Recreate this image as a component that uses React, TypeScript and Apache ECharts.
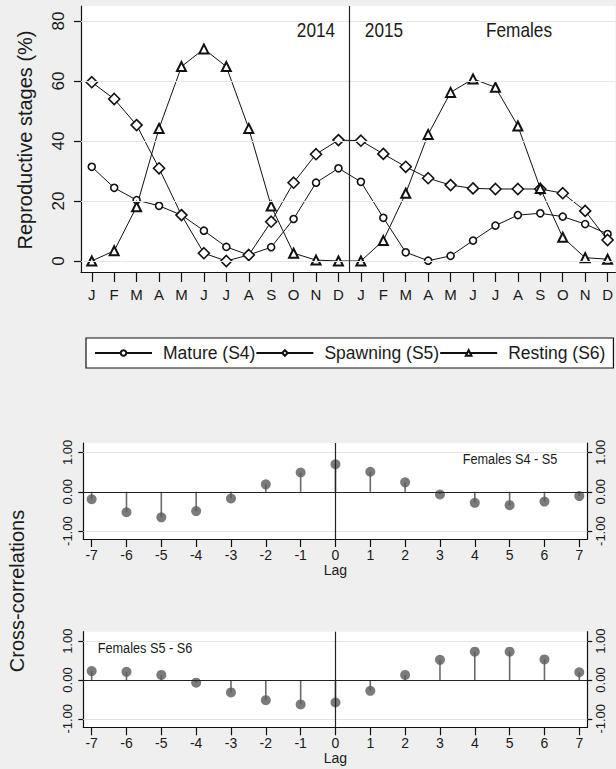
import React, { useEffect, useRef } from "react";
import * as echarts from "echarts";

// ---- Data ----
const monthLabels = [
  "J", "F", "M", "A", "M", "J", "J", "A", "S", "O", "N", "D",
  "J", "F", "M", "A", "M", "J", "J", "A", "S", "O", "N", "D",
];
const yTickValues = [0, 20, 40, 60, 80];

const mature = [31.4, 24.4, 20.3, 18.4, 15.3, 10.1, 4.7, 2.0, 4.6, 14.0, 26.1, 30.9,
  26.4, 14.4, 2.9, 0.1, 1.7, 6.8, 11.8, 15.3, 15.9, 14.8, 12.3, 9.0];
const spawning = [59.6, 54.0, 45.3, 30.9, 15.3, 2.6, 0.0, 2.0, 13.1, 26.1, 35.6, 40.3,
  40.1, 35.7, 31.4, 27.6, 25.3, 24.2, 24.0, 24.0, 24.0, 22.6, 16.7, 7.0];
const resting = [0.0, 3.4, 18.1, 44.2, 64.8, 70.7, 64.8, 44.2, 18.3, 2.6, 0.3, 0.0,
  0.0, 6.8, 22.6, 42.2, 56.2, 60.7, 57.9, 45.0, 24.2, 7.9, 1.1, 0.6];

const lags = [-7, -6, -5, -4, -3, -2, -1, 0, 1, 2, 3, 4, 5, 6, 7];
const ccfS4S5 = [-0.19, -0.52, -0.65, -0.49, -0.17, 0.19, 0.49, 0.70, 0.51, 0.24, -0.07, -0.28, -0.34, -0.25, -0.11];
const ccfS5S6 = [0.23, 0.21, 0.13, -0.07, -0.32, -0.52, -0.63, -0.58, -0.28, 0.13, 0.52, 0.73, 0.73, 0.53, 0.20];
const ccfTicks = [-1, 0, 1];

const seriesNames = ["Mature (S4)", "Spawning (S5)", "Resting (S6)"];

const REG = "'Liberation Sans', Arial, sans-serif";
const TXT = "#1a1a1a";
const BG = "#efefef";
const NARROW_SCALE = 0.82;

function buildOption() {
  const monthIdx = monthLabels.map((_, i) => i);
  const axisLineStyle = { color: "#111", width: 1.2 };

  const ccfX = (gi: number) => ({
    type: "value",
    gridIndex: gi,
    min: -7.24,
    max: 7.23,
    name: "Lag",
    nameLocation: "middle",
    nameGap: 19,
    nameTextStyle: { fontFamily: REG, fontSize: 14, color: TXT },
    axisLine: { show: true, onZero: false, lineStyle: axisLineStyle },
    axisTick: { show: true, length: 8, customValues: lags, lineStyle: axisLineStyle },
    axisLabel: { customValues: lags, fontFamily: REG, fontSize: 14, color: TXT, margin: 9, formatter: (v: number) => String(v) },
    splitLine: { show: false },
  });
  const ccfY = (gi: number, pos: string, min: number, max: number) => ({
    type: "value",
    gridIndex: gi,
    position: pos,
    min,
    max,
    axisLine: { show: true, onZero: false, lineStyle: axisLineStyle },
    axisTick: { show: true, length: 5, customValues: ccfTicks, lineStyle: axisLineStyle },
    axisLabel: {
      customValues: ccfTicks,
      rotate: 90,
      fontFamily: REG,
      fontSize: 13,
      color: TXT,
      margin: pos === "left" ? 9 : 7,
      formatter: (v: number) => v.toFixed(2),
    },
    splitLine: { show: false },
  });

  const refLines = (xi: number, yi: number) => ({
    type: "line",
    xAxisIndex: xi,
    yAxisIndex: yi,
    data: [[-100, -100]],
    symbol: "none",
    silent: true,
    z: 1,
    markLine: {
      silent: true,
      symbol: ["none", "none"],
      label: { show: false },
      data: [
        { yAxis: 1, lineStyle: { color: "#e4e4e4", width: 1, type: "solid" } },
        { yAxis: -1, lineStyle: { color: "#e4e4e4", width: 1, type: "solid" } },
        { yAxis: 0, lineStyle: { color: "#222", width: 1.2, type: "solid" } },
        { xAxis: 0, lineStyle: { color: "#222", width: 1.2, type: "solid" } },
      ],
    },
  });

  const stems = (xi: number, yi: number, vals: number[]) => ({
    type: "bar",
    xAxisIndex: xi,
    yAxisIndex: yi,
    data: lags.map((l, i) => [l, vals[i]]),
    barWidth: 1.6,
    itemStyle: { color: "#6a6a6a" },
    silent: true,
    z: 2,
  });
  const dots = (xi: number, yi: number, vals: number[]) => ({
    type: "scatter",
    xAxisIndex: xi,
    yAxisIndex: yi,
    data: lags.map((l, i) => [l, vals[i]]),
    symbol: "circle",
    symbolSize: 10,
    itemStyle: { color: "#5a5a5a" },
    silent: true,
    z: 3,
  });

  const mainLine = (name: string, vals: number[], symbol: string, size: number, bw: number) => ({
    type: "line",
    name,
    xAxisIndex: 0,
    yAxisIndex: 0,
    data: vals.map((v, i) => [i, v]),
    symbol,
    symbolSize: size,
    showAllSymbol: true,
    lineStyle: { color: "#111", width: 1 },
    itemStyle: { color: "#fff", borderColor: "#111", borderWidth: bw },
    z: 3,
  });

  const narrowText = (text: string, x: number, y: number, size: number) => ({
    type: "text",
    x,
    y,
    scaleX: NARROW_SCALE,
    style: { text, fontFamily: REG, fontSize: size, fill: TXT, align: "center", verticalAlign: "middle" },
  });

  return {
    animation: false,
    backgroundColor: BG,
    grid: [
      { left: 81, top: 6, width: 535, height: 266, show: true, backgroundColor: "#fff", borderWidth: 0 },
      { left: 83.3, top: 443, width: 504, height: 96, show: true, backgroundColor: "#fff", borderWidth: 0 },
      { left: 83.3, top: 631.7, width: 504, height: 95.6, show: true, backgroundColor: "#fff", borderWidth: 0 },
    ],
    xAxis: [
      {
        type: "value",
        gridIndex: 0,
        min: -0.48,
        max: 23.35,
        axisLine: { show: true, onZero: false, lineStyle: axisLineStyle },
        axisTick: { show: true, length: 10, customValues: monthIdx, lineStyle: axisLineStyle },
        axisLabel: {
          customValues: monthIdx,
          fontFamily: REG,
          fontSize: 15,
          color: TXT,
          margin: 15,
          formatter: (v: number) => monthLabels[Math.round(v)] ?? "",
        },
        splitLine: { show: false },
      },
      ccfX(1),
      ccfX(2),
    ],
    yAxis: [
      {
        type: "value",
        gridIndex: 0,
        position: "left",
        min: -3.667,
        max: 85,
        axisLine: { show: true, onZero: false, lineStyle: axisLineStyle },
        axisTick: { show: true, length: 7, customValues: yTickValues, lineStyle: axisLineStyle },
        axisLabel: {
          customValues: yTickValues,
          rotate: 90,
          fontFamily: REG,
          fontSize: 17,
          color: TXT,
          margin: 14,
        },
        splitLine: { show: false },
      },
      ccfY(1, "left", -1.2, 1.24),
      ccfY(1, "right", -1.2, 1.24),
      ccfY(2, "left", -1.22, 1.245),
      ccfY(2, "right", -1.22, 1.245),
    ],
    legend: {
      data: seriesNames,
      left: 86,
      top: 338,
      width: 560,
      orient: "horizontal",
      itemWidth: 57,
      itemHeight: 7,
      itemGap: 0,
      padding: [6, 8, 6, 8],
      borderColor: "#111",
      borderWidth: 1.2,
      backgroundColor: "#fff",
      selectedMode: false,
      textStyle: { fontFamily: REG, fontSize: 17.5, color: TXT, padding: [0, 0, 0, 6] },
    },
    graphic: [
      { type: "text", x: 25, y: 140, rotation: Math.PI / 2, style: { text: "Reproductive stages (%)", fontFamily: REG, fontSize: 20, fill: TXT, align: "center", verticalAlign: "middle" } },
      { type: "text", x: 17, y: 591, rotation: Math.PI / 2, style: { text: "Cross-correlations", fontFamily: REG, fontSize: 20, fill: TXT, align: "center", verticalAlign: "middle" } },
      narrowText("2014", 316, 30, 21),
      narrowText("2015", 384, 30, 21),
      narrowText("Females", 519, 30, 21),
      narrowText("Females S4 - S5", 510, 459, 15.5),
      narrowText("Females S5 - S6", 145, 648, 15.5),
    ],
    series: [
      {
        type: "line",
        xAxisIndex: 0,
        yAxisIndex: 0,
        data: [[-100, -100]],
        symbol: "none",
        silent: true,
        z: 1,
        markLine: {
          silent: true,
          symbol: ["none", "none"],
          label: { show: false },
          data: [
            ...yTickValues.map((v) => ({ yAxis: v, lineStyle: { color: "#e6e6e6", width: 1, type: "solid" } })),
            { xAxis: 11.5, lineStyle: { color: "#222", width: 1.2, type: "solid" } },
          ],
        },
      },
      mainLine(seriesNames[0], mature, "circle", 7, 1.6),
      mainLine(seriesNames[1], spawning, "diamond", 11, 1.6),
      mainLine(seriesNames[2], resting, "triangle", 9, 2),
      refLines(1, 1),
      stems(1, 1, ccfS4S5),
      dots(1, 1, ccfS4S5),
      refLines(2, 3),
      stems(2, 3, ccfS5S6),
      dots(2, 3, ccfS5S6),
    ],
  };
}

export default function App() {
  const ref = useRef<HTMLDivElement>(null);
  useEffect(() => {
    document.body.style.margin = "0";
    if (!ref.current) return;
    const chart = echarts.init(ref.current, null, { renderer: "svg" });
    chart.setOption(buildOption() as any);
    return () => chart.dispose();
  }, []);
  return <div ref={ref} style={{ width: 616, height: 769 }} />;
}
